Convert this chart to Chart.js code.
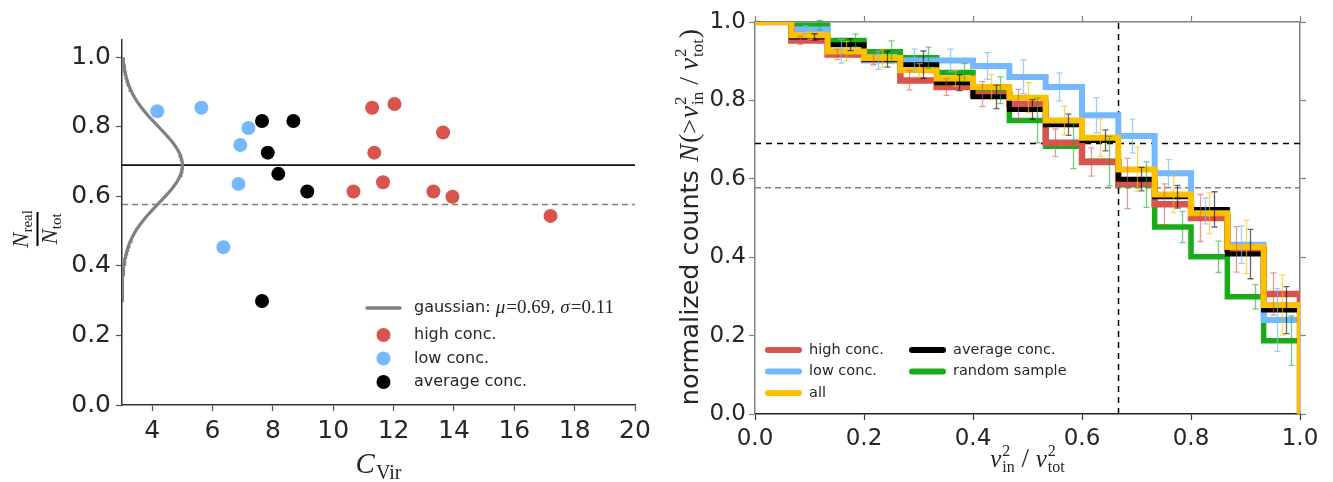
<!DOCTYPE html>
<html>
<head>
<meta charset="utf-8">
<script src="https://cdn.jsdelivr.net/npm/chart.js@4.4.1/dist/chart.umd.min.js"></script>
<style>
  html, body { margin: 0; padding: 0; background: #fff; }
  #wrap { position: relative; width: 1333px; height: 482px; overflow: hidden; }
  canvas { position: absolute; top: 0; }
</style>
</head>
<body>
<div id="wrap">
  <canvas id="left" width="660" height="482" style="left:0"></canvas>
  <canvas id="right" width="673" height="482" style="left:660px"></canvas>
</div>
<script>
// ---------- left panel: N_real / N_tot against concentration ----------
const highConc   = [11.29, 12.03, 13.64, 11.36, 11.65, 10.67, 13.32, 13.95, 17.20];
const highFrac   = [0.855, 0.866, 0.784, 0.726, 0.641, 0.614, 0.614, 0.599, 0.544];
const lowConc    = [4.17, 5.63, 7.19, 6.92, 6.86, 6.36];
const lowFrac    = [0.845, 0.855, 0.797, 0.748, 0.636, 0.454];
const avgConc    = [7.64, 8.68, 7.83, 8.18, 9.14, 7.64];
const avgFrac    = [0.817, 0.817, 0.726, 0.665, 0.614, 0.299];
const gaussMu = 0.69, gaussSigma = 0.11;     // fitted gaussian of the fractions
const gaussBase = 3, gaussAmp = 2;           // drawn sideways from the y axis
const meanFrac = 0.69;
const refFrac = 0.577;
const leftXTicks = [4, 6, 8, 10, 12, 14, 16, 18, 20];
const leftYTicks = [0, 0.2, 0.4, 0.6, 0.8, 1.0];

// ---------- right panel: cumulative N(> v_in^2 / v_tot^2) ----------
const binEdges = [0, 0.0667, 0.1333, 0.2, 0.2667, 0.3333, 0.4, 0.4667, 0.5333,
                  0.6, 0.6667, 0.7333, 0.8, 0.8667, 0.9333, 1.0];
const highCounts   = [1.0, 0.953, 0.917, 0.905, 0.851, 0.834, 0.816, 0.790, 0.692, 0.643, 0.588, 0.535, 0.500, 0.420, 0.306];
const lowCounts    = [1.0, 0.981, 0.925, 0.902, 0.902, 0.902, 0.888, 0.860, 0.834, 0.762, 0.709, 0.614, 0.518, 0.432, 0.240];
const allCounts    = [1.0, 0.966, 0.925, 0.908, 0.877, 0.856, 0.834, 0.807, 0.749, 0.705, 0.624, 0.560, 0.512, 0.426, 0.278];
const avgCounts    = [1.0, 0.962, 0.942, 0.905, 0.891, 0.845, 0.809, 0.777, 0.738, 0.698, 0.599, 0.554, 0.522, 0.408, 0.265];
const randomCounts = [1.0, 0.992, 0.953, 0.924, 0.909, 0.871, 0.826, 0.749, 0.683, 0.645, 0.585, 0.477, 0.401, 0.299, 0.187];
const highErr   = [0, 0.010, 0.013, 0.014, 0.025, 0.021, 0.032, 0.038, 0.035, 0.036, 0.064, 0.052, 0.060, 0.058, 0.054];
const lowErr    = [0, 0.010, 0.030, 0.023, 0.029, 0.029, 0.034, 0.043, 0.036, 0.045, 0.043, 0.035, 0.033, 0.048, 0.080];
const allErr    = [0, 0.010, 0.025, 0.023, 0.017, 0.020, 0.032, 0.038, 0.037, 0.047, 0.056, 0.047, 0.052, 0.068, 0.077];
const avgErr    = [0, 0.008, 0.015, 0.020, 0.035, 0.020, 0.030, 0.025, 0.027, 0.027, 0.030, 0.029, 0.045, 0.063, 0.060];
const randomErr = [0, 0.012, 0.016, 0.028, 0.027, 0.023, 0.034, 0.057, 0.057, 0.063, 0.058, 0.040, 0.040, 0.031, 0.063];
const virialRatio = 0.667;
const rightTicks = [0, 0.2, 0.4, 0.6, 0.8, 1.0];

// ---------- styling ----------
const RED = '#d9534f', BLUE = '#74b9ff', YELLOW = '#fbc000', GREEN = '#1aab1a', BLACK = '#000000';
const INK = '#262626', GREY = '#808080';
const SANS = '"DejaVu Sans", sans-serif';
const SERIF = '"Liberation Serif", "DejaVu Serif", serif';

// draws a run of text pieces; a piece may stack a superscript over a subscript
function richWidth(ctx, segs) {
  let w = 0;
  segs.forEach(s => {
    if (s.sup !== undefined) {
      ctx.font = s.font; const a = ctx.measureText(s.sup).width;
      const b = ctx.measureText(s.sub).width; s.w = Math.max(a, b);
    } else { ctx.font = s.font; s.w = ctx.measureText(s.t).width; }
    s.w += (s.dx || 0);
    w += s.w;
  });
  return w;
}
function drawRich(ctx, segs, x, y, align) {
  const w = richWidth(ctx, segs);
  let cx = align === 'center' ? x - w / 2 : x;
  segs.forEach(s => {
    ctx.font = s.font;
    const ox = cx + (s.dx || 0);
    if (s.sup !== undefined) {
      ctx.fillText(s.sup, ox, y + s.supDy);
      ctx.fillText(s.sub, ox, y + s.subDy);
    } else {
      ctx.fillText(s.t, ox, y + (s.dy || 0));
    }
    cx += s.w;
  });
}

// ---------- left chart ----------
const gaussCurve = [];
for (let f = 0.30; f <= 1.0001; f += 0.005) {
  const z = (f - gaussMu) / gaussSigma;
  gaussCurve.push({ x: gaussBase + gaussAmp * Math.exp(-0.5 * z * z), y: f });
}
const pts = (xs, ys) => xs.map((v, i) => ({ x: v, y: ys[i] }));

const leftDecor = {
  id: 'leftDecor',
  afterDraw(chart) {
    const { ctx, chartArea: ca } = chart;
    ctx.save();
    ctx.fillStyle = INK;
    ctx.textBaseline = 'alphabetic';
    // x label  C_Vir
    const cxm = (ca.left + ca.right) / 2;
    drawRich(ctx, [
      { t: 'C', font: 'italic 29px ' + SERIF },
      { t: 'Vir', font: '20px ' + SERIF, dy: 6, dx: 1 }
    ], cxm, 473, 'center');
    // y label  N_real / N_tot as a fraction, rotated
    ctx.translate(37.5, 229);
    ctx.rotate(-Math.PI / 2);
    ctx.fillStyle = INK;
    drawRich(ctx, [
      { t: 'N', font: 'italic 23px ' + SERIF },
      { t: 'real', font: '15px ' + SERIF, dy: 4 }
    ], 0, -10, 'center');
    drawRich(ctx, [
      { t: 'N', font: 'italic 23px ' + SERIF },
      { t: 'tot', font: '15px ' + SERIF, dy: 4 }
    ], 0, 19, 'center');
    ctx.fillStyle = '#000';
    ctx.fillRect(-17, -1, 34, 2);
    ctx.restore();

    // legend
    ctx.save();
    ctx.lineCap = 'round';
    ctx.strokeStyle = GREY; ctx.lineWidth = 3.5;
    ctx.beginPath(); ctx.moveTo(367, 308); ctx.lineTo(400, 308); ctx.stroke();
    ctx.textBaseline = 'middle';
    ctx.fillStyle = INK;
    drawRich(ctx, [
      { t: 'gaussian: ', font: '16px ' + SANS },
      { t: 'μ', font: 'italic 19px ' + SERIF },
      { t: '=0.69', font: '19px ' + SERIF, dx: 1 },
      { t: ', ', font: '16px ' + SANS },
      { t: 'σ', font: 'italic 19px ' + SERIF },
      { t: '=0.11', font: '19px ' + SERIF, dx: 1 }
    ], 414, 308, 'left');
    const rows = [[RED, 'high conc.', 335], [BLUE, 'low conc.', 358.5], [BLACK, 'average conc.', 382]];
    rows.forEach(([c, label, yy]) => {
      ctx.fillStyle = c;
      ctx.beginPath(); ctx.arc(383.5, yy, 7, 0, Math.PI * 2); ctx.fill();
      ctx.fillStyle = INK; ctx.font = '16px ' + SANS;
      ctx.fillText(label, 414, yy);
    });
    ctx.restore();
  }
};

new Chart(document.getElementById('left'), {
  type: 'scatter',
  data: {
    datasets: [
      { label: 'high conc.', data: pts(highConc, highFrac), backgroundColor: RED, pointRadius: 7, pointBorderWidth: 0, borderWidth: 0 },
      { label: 'low conc.', data: pts(lowConc, lowFrac), backgroundColor: BLUE, pointRadius: 7, pointBorderWidth: 0, borderWidth: 0 },
      { label: 'average conc.', data: pts(avgConc, avgFrac), backgroundColor: BLACK, pointRadius: 7, pointBorderWidth: 0, borderWidth: 0 },
      { label: 'gaussian', data: gaussCurve, showLine: true, borderColor: GREY, borderWidth: 3.2, pointRadius: 0 },
      { label: 'mean', data: [{ x: 3, y: meanFrac }, { x: 20, y: meanFrac }], showLine: true, borderColor: '#111', borderWidth: 1.8, pointRadius: 0 },
      { label: 'reference', data: [{ x: 3, y: refFrac }, { x: 20, y: refFrac }], showLine: true, borderColor: GREY, borderWidth: 1.5, borderDash: [6, 4], pointRadius: 0 }
    ]
  },
  options: {
    responsive: false, animation: false, devicePixelRatio: 1,
    layout: { padding: { left: 0, top: 40, right: 25, bottom: 0 } },
    plugins: { legend: { display: false }, tooltip: { enabled: false } },
    scales: {
      x: {
        type: 'linear', min: 3, max: 20,
        afterBuildTicks: s => { s.ticks = leftXTicks.map(v => ({ value: v })); },
        afterFit: s => { s.height = 77; },
        grid: { display: true, drawOnChartArea: false, drawTicks: true, tickLength: 6, tickColor: '#555', tickWidth: 1.2 },
        border: { display: true, color: '#333', width: 1.5 },
        ticks: { font: { family: 'DejaVu Sans', size: 25 }, color: INK, padding: 5, maxRotation: 0, callback: v => String(v) }
      },
      y: {
        type: 'linear', min: 0, max: 1.05,
        afterBuildTicks: s => { s.ticks = leftYTicks.map(v => ({ value: v })); },
        afterFit: s => { s.width = 122; },
        grid: { display: true, drawOnChartArea: false, drawTicks: true, tickLength: 6, tickColor: '#555', tickWidth: 1.2 },
        border: { display: true, color: '#333', width: 1.5 },
        ticks: { font: { family: 'DejaVu Sans', size: 25 }, color: INK, padding: 5, callback: v => v.toFixed(1) }
      }
    }
  },
  plugins: [leftDecor]
});

// ---------- right chart ----------
const stepPoints = vals => {
  const out = vals.map((v, i) => ({ x: binEdges[i], y: v }));
  out.push({ x: binEdges[binEdges.length - 1], y: vals[vals.length - 1] });
  out.push({ x: binEdges[binEdges.length - 1], y: 0 });
  return out;
};
const rightSeries = [
  { label: 'all',           vals: allCounts,    errs: allErr,    color: YELLOW, err: 'rgba(251,192,0,0.65)',  width: 6,   pos: 0.5 },
  { label: 'average conc.', vals: avgCounts,    errs: avgErr,    color: BLACK,  err: 'rgba(0,0,0,0.6)',       width: 5,   pos: 0.625 },
  { label: 'high conc.',    vals: highCounts,   errs: highErr,   color: RED,    err: 'rgba(217,83,79,0.6)',   width: 6.5, pos: 0.25 },
  { label: 'low conc.',     vals: lowCounts,    errs: lowErr,    color: BLUE,   err: 'rgba(116,185,255,0.7)', width: 6,   pos: 0.375 },
  { label: 'random sample', vals: randomCounts, errs: randomErr, color: GREEN,  err: 'rgba(26,171,26,0.6)',   width: 5.5, pos: 0.75 }
];

const errorBars = {
  id: 'errorBars',
  afterDatasetsDraw(chart) {
    const { ctx, scales: { x, y } } = chart;
    ctx.save();
    ctx.lineWidth = 1.3;
    rightSeries.slice().reverse().forEach(s => {
      ctx.strokeStyle = s.err;
      s.vals.forEach((v, i) => {
        const e = s.errs[i];
        if (!e) return;
        const xv = binEdges[i] + (binEdges[i + 1] - binEdges[i]) * s.pos;
        const px = Math.round(x.getPixelForValue(xv)) + 0.5;
        const lo = y.getPixelForValue(v - e), hi = y.getPixelForValue(v + e);
        ctx.beginPath();
        ctx.moveTo(px, lo); ctx.lineTo(px, hi);
        ctx.moveTo(px - 3, lo); ctx.lineTo(px + 3, lo);
        ctx.moveTo(px - 3, hi); ctx.lineTo(px + 3, hi);
        ctx.stroke();
      });
    });
    ctx.restore();
  }
};

const rightDecor = {
  id: 'rightDecor',
  afterDraw(chart) {
    const { ctx, chartArea: ca } = chart;
    ctx.save();
    ctx.fillStyle = INK;
    ctx.textBaseline = 'alphabetic';
    // x label  v_in^2 / v_tot^2
    drawRich(ctx, [
      { t: 'v', font: 'italic 25px ' + SERIF },
      { sup: '2', sub: 'in', font: '16px ' + SERIF, supDy: -11, subDy: 5, dx: 1 },
      { t: ' / ', font: '27px ' + SERIF },
      { t: 'v', font: 'italic 25px ' + SERIF },
      { sup: '2', sub: 'tot', font: '16px ' + SERIF, supDy: -11, subDy: 5, dx: 1 }
    ], (ca.left + ca.right) / 2, 467, 'center');

    // y label, rotated
    ctx.translate(ca.left - 57, (ca.top + ca.bottom) / 2 - 1);
    ctx.rotate(-Math.PI / 2);
    drawRich(ctx, [
      { t: 'normalized counts ', font: '25.5px ' + SANS },
      { t: 'N', font: 'italic 27px ' + SERIF },
      { t: '(', font: '28px ' + SERIF, dx: 1 },
      { t: '>', font: '26px ' + SERIF },
      { t: 'v', font: 'italic 27px ' + SERIF, dx: 1 },
      { sup: '2', sub: 'in', font: '17px ' + SERIF, supDy: -12, subDy: 5, dx: 1 },
      { t: ' / ', font: '28px ' + SERIF },
      { t: 'v', font: 'italic 27px ' + SERIF },
      { sup: '2', sub: 'tot', font: '17px ' + SERIF, supDy: -12, subDy: 5, dx: 1 },
      { t: ')', font: '28px ' + SERIF, dx: 1 }
    ], 0, 0, 'center');
    ctx.restore();

    // legend
    ctx.save();
    ctx.lineCap = 'round';
    ctx.lineWidth = 6;
    ctx.textBaseline = 'middle';
    ctx.font = '14.5px ' + SANS;
    const items = [
      ['high conc.', RED, 106, 350], ['low conc.', BLUE, 106, 371.5], ['all', YELLOW, 106, 393],
      ['average conc.', BLACK, 250, 350], ['random sample', GREEN, 250, 371.5]
    ];
    items.forEach(([label, c, lx, ly]) => {
      ctx.strokeStyle = c;
      ctx.beginPath(); ctx.moveTo(lx + 2, ly); ctx.lineTo(lx + 33, ly); ctx.stroke();
      ctx.fillStyle = INK;
      ctx.fillText(label, lx + 43, ly);
    });
    ctx.restore();
  }
};

const rightDatasets = rightSeries.map(s => ({
  label: s.label, data: stepPoints(s.vals), showLine: true, stepped: true,
  borderColor: s.color, borderWidth: s.width, pointRadius: 0,
  borderJoinStyle: 'miter', borderCapStyle: 'butt'
}));
rightDatasets.push(
  { label: 'virial', data: [{ x: virialRatio, y: 0 }, { x: virialRatio, y: 1 }], showLine: true, borderColor: '#000', borderWidth: 1.5, borderDash: [6, 5], pointRadius: 0 },
  { label: 'mean', data: [{ x: 0, y: meanFrac }, { x: 1, y: meanFrac }], showLine: true, borderColor: '#000', borderWidth: 1.5, borderDash: [6, 5], pointRadius: 0 },
  { label: 'reference', data: [{ x: 0, y: refFrac }, { x: 1, y: refFrac }], showLine: true, borderColor: GREY, borderWidth: 1.5, borderDash: [6, 4], pointRadius: 0 }
);

const tickSetter = s => { s.ticks = rightTicks.map(v => ({ value: v })); };
new Chart(document.getElementById('right'), {
  type: 'scatter',
  data: { datasets: rightDatasets },
  options: {
    responsive: false, animation: false, devicePixelRatio: 1,
    layout: { padding: { left: 0, top: 22, right: 33, bottom: 0 } },
    plugins: { legend: { display: false }, tooltip: { enabled: false } },
    scales: {
      x: {
        type: 'linear', position: 'bottom', min: 0, max: 1,
        afterBuildTicks: tickSetter, afterFit: s => { s.height = 68; },
        grid: { display: true, drawOnChartArea: false, tickLength: 6, tickColor: '#333', tickWidth: 1.2 },
        border: { display: true, color: '#222', width: 1.5 },
        ticks: { font: { family: 'DejaVu Sans', size: 23 }, color: INK, padding: 5, maxRotation: 0, callback: v => v.toFixed(1) }
      },
      x2: {
        type: 'linear', position: 'top', min: 0, max: 1,
        afterBuildTicks: tickSetter, afterFit: s => { s.height = 0; },
        grid: { display: true, drawOnChartArea: false, tickLength: 6, tickColor: GREY, tickWidth: 1.2 },
        border: { display: true, color: GREY, width: 1.5 },
        ticks: { display: false }
      },
      y: {
        type: 'linear', position: 'left', min: 0, max: 1,
        afterBuildTicks: tickSetter, afterFit: s => { s.width = 95; },
        grid: { display: true, drawOnChartArea: false, tickLength: 6, tickColor: GREY, tickWidth: 1.2 },
        border: { display: true, color: GREY, width: 1.5 },
        ticks: { font: { family: 'DejaVu Sans', size: 23 }, color: INK, padding: 3, callback: v => v.toFixed(1) }
      },
      y2: {
        type: 'linear', position: 'right', min: 0, max: 1,
        afterBuildTicks: tickSetter, afterFit: s => { s.width = 0; },
        grid: { display: true, drawOnChartArea: false, tickLength: 6, tickColor: GREY, tickWidth: 1.2 },
        border: { display: true, color: GREY, width: 1.5 },
        ticks: { display: false }
      }
    }
  },
  plugins: [errorBars, rightDecor]
});
</script>
</body>
</html>
